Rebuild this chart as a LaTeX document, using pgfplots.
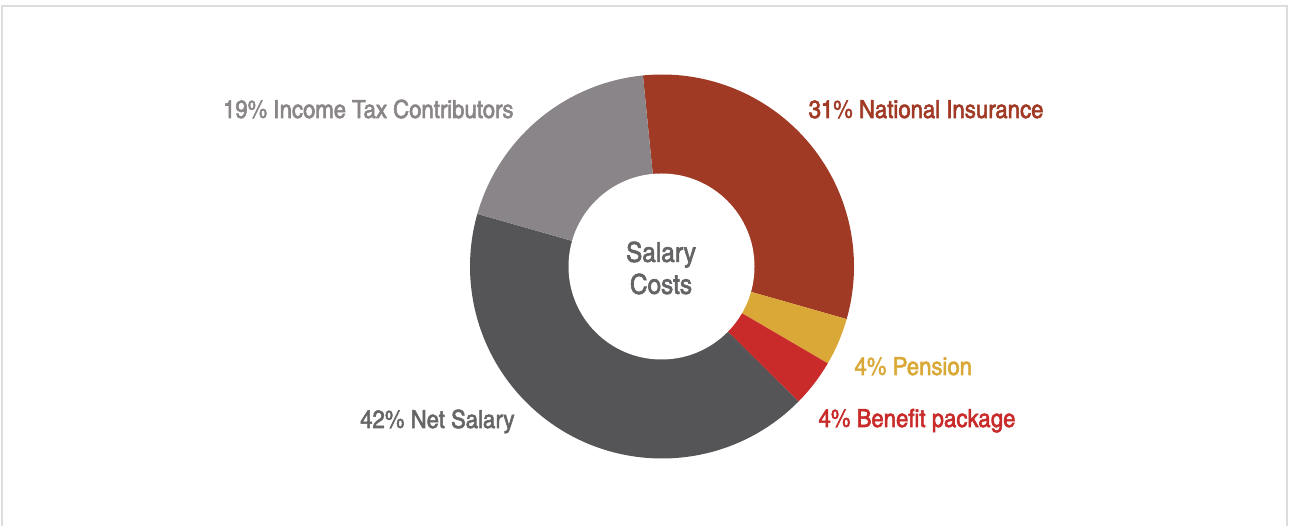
\documentclass[border=0pt]{standalone}
\usepackage{fontspec}
\setmainfont{texgyreheroscn}[Extension=.otf, UprightFont=*-regular, BoldFont=*-bold, FakeStretch=1.08, FakeBold=2.2]
\usepackage{pgfplots}
\pgfplotsset{compat=1.18}
\definecolor{tax}{HTML}{8A8588}
\definecolor{ni}{HTML}{A03A25}
\definecolor{pen}{HTML}{D9A836}
\definecolor{ben}{HTML}{C92A2A}
\definecolor{net}{HTML}{555557}
\definecolor{ctr}{HTML}{646466}
\definecolor{frame}{HTML}{DDDDDD}
\begin{document}
\begin{tikzpicture}
\path[use as bounding box](0,0) rectangle (1289pt,526pt);
\begin{axis}[scale only axis,width=1289pt,height=526pt,xmin=0,xmax=1289,ymin=0,ymax=526,
  hide axis,clip=false]
% frame (top, left, right)
\draw[frame,line width=2pt](axis cs:2,0)--(axis cs:2,520)--(axis cs:1287,520)--(axis cs:1287,0);
% slices: percent / colour, clockwise from 95.7 degrees
\xdef\a{95.7}
\foreach \v/\c in {31/ni,4/pen,4/ben,42/net,19/tax}{
  \pgfmathsetmacro\b{\a-3.6*\v}
  \edef\temp{\noexpand\fill[\c](axis cs:662,259.5)--++(\a:192pt)arc[start angle=\a,end angle=\b,radius=192pt]--cycle;}
  \temp
  \xdef\a{\b}
}
\fill[white](axis cs:661.5,259.5)circle[radius=93pt];
\node[ctr,font=\fontsize{27.5}{32}\selectfont,align=center] at (axis cs:661,258){Salary\\Costs};
\node[tax,font=\fontsize{25}{30}\selectfont,anchor=base east] at (axis cs:517,408){19\% Income Tax Contributors};
\node[ni,font=\fontsize{25}{30}\selectfont,anchor=base west] at (axis cs:805,408){31\% National Insurance};
\node[pen,font=\fontsize{25}{30}\selectfont,anchor=base west] at (axis cs:851,151){4\% Pension};
\node[ben,font=\fontsize{25}{30}\selectfont,anchor=base west] at (axis cs:815,99){4\% Benefit package};
\node[net!90!white,font=\fontsize{25}{30}\selectfont,anchor=base east] at (axis cs:518,98){42\% Net Salary};
\end{axis}
\end{tikzpicture}
\end{document}
